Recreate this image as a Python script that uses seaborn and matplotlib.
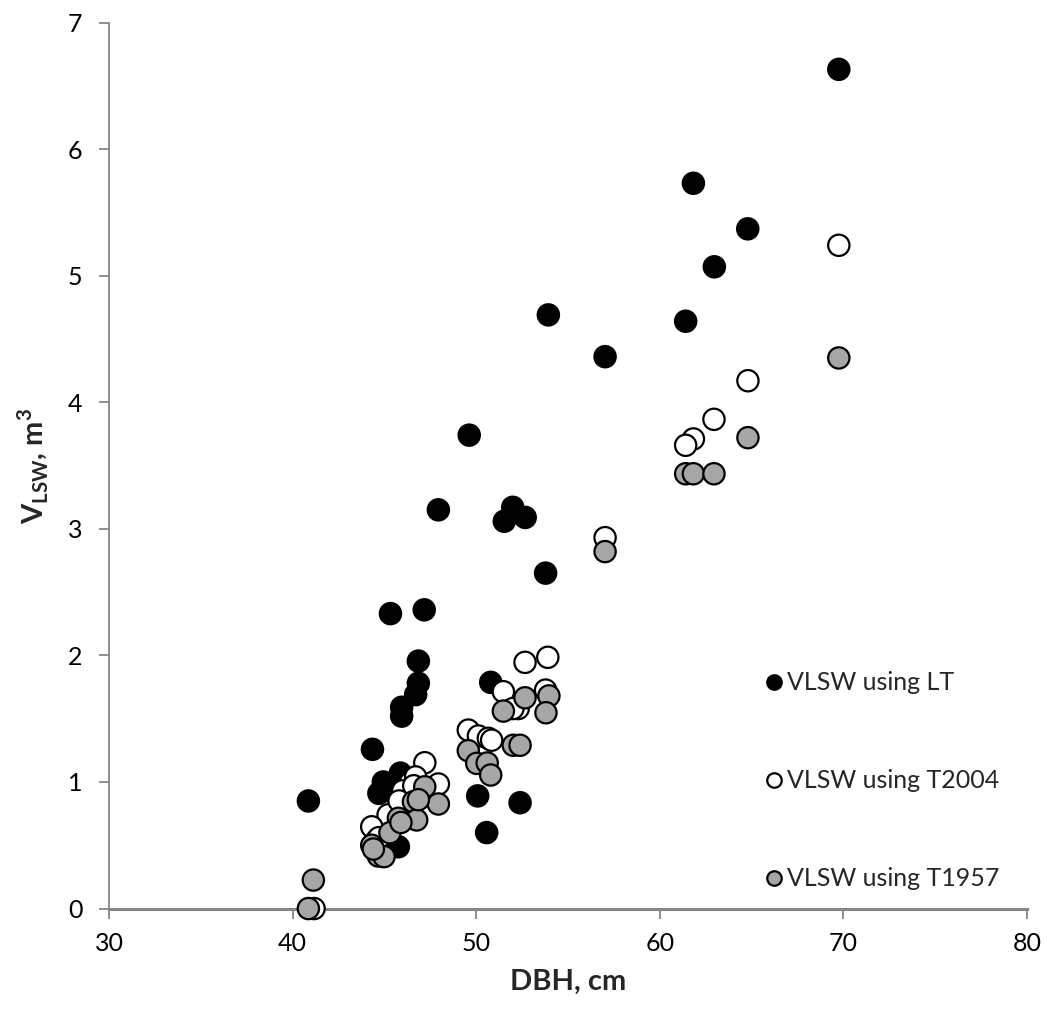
import matplotlib
matplotlib.use("Agg")
import matplotlib.pyplot as plt
import seaborn as sns
import pandas as pd

# VLSW using LT (black)
lt_dbh = [69.75, 61.83, 64.79, 62.97, 61.41, 53.93, 57.02, 49.62, 47.94, 51.99,
          51.53, 52.67, 53.78, 45.33, 47.17, 46.85, 46.85, 46.70, 45.94, 45.94,
          50.79, 44.35, 45.87, 44.94, 44.70, 40.86, 50.08, 52.39, 50.57, 45.76]
lt_vol = [6.63, 5.73, 5.37, 5.07, 4.64, 4.69, 4.36, 3.74, 3.15, 3.17,
          3.06, 3.09, 2.65, 2.33, 2.36, 1.955, 1.78, 1.69, 1.59, 1.52,
          1.787, 1.258, 1.07, 1.00, 0.91, 0.85, 0.89, 0.836, 0.60, 0.488]

# VLSW using T2004 (white)
t04_dbh = [69.75, 64.80, 62.95, 61.83, 61.41, 57.02, 53.90, 52.66, 53.78, 51.48,
           52.29, 52.00, 49.57, 50.12, 50.66, 50.84, 47.20, 47.94, 46.40, 45.94,
           45.76, 45.20, 44.31, 44.58, 41.17, 46.70, 46.00, 45.80, 46.60, 44.70]
t04_vol = [5.24, 4.17, 3.865, 3.71, 3.66, 2.93, 1.985, 1.945, 1.726, 1.713,
           1.58, 1.58, 1.41, 1.363, 1.345, 1.33, 1.152, 0.984, 0.994, 0.91,
           0.87, 0.74, 0.646, 0.54, 0.0, 1.04, 0.93, 0.85, 0.97, 0.56]

# VLSW using T1957 (grey)
t57_dbh = [69.75, 64.80, 61.41, 61.83, 62.95, 57.02, 53.96, 52.66, 53.80, 51.48,
           52.02, 52.39, 49.57, 50.03, 50.60, 50.79, 47.20, 47.94, 46.58, 45.76,
           46.76, 45.30, 44.31, 44.67, 44.98, 41.13, 40.86, 45.90, 46.85, 44.40]
t57_vol = [4.35, 3.72, 3.435, 3.435, 3.435, 2.82, 1.68, 1.665, 1.547, 1.56,
           1.29, 1.29, 1.247, 1.147, 1.15, 1.055, 0.962, 0.826, 0.844, 0.713,
           0.70, 0.599, 0.50, 0.415, 0.41, 0.225, 0.0, 0.68, 0.86, 0.47]

series_names = ["VLSW using LT", "VLSW using T2004", "VLSW using T1957"]
face_colors = ["#000000", "#ffffff", "#a6a6a6"]

df = pd.concat([
    pd.DataFrame({"DBH": lt_dbh, "V": lt_vol, "series": series_names[0]}),
    pd.DataFrame({"DBH": t04_dbh, "V": t04_vol, "series": series_names[1]}),
    pd.DataFrame({"DBH": t57_dbh, "V": t57_vol, "series": series_names[2]}),
], ignore_index=True)

sns.set_theme(style="white")
plt.rcParams["font.family"] = ["Lato", "DejaVu Sans"]
plt.rcParams["mathtext.fontset"] = "custom"
plt.rcParams["mathtext.rm"] = "Lato"
plt.rcParams["mathtext.bf"] = "Lato:bold"

fig = plt.figure(figsize=(10.47, 10.14), dpi=100)
ax = fig.add_axes([0.1041, 0.104, 0.8768, 0.8738])

sns.scatterplot(data=df, x="DBH", y="V", hue="series", hue_order=series_names,
                palette=dict(zip(series_names, face_colors)), s=235,
                edgecolor="black", linewidth=1.6, ax=ax, clip_on=False, zorder=3)

ax.set_xlim(30, 80)
ax.set_ylim(0, 7)
ax.set_xticks(range(30, 81, 10))
ax.set_yticks(range(0, 8))

for side in ["top", "right"]:
    ax.spines[side].set_visible(False)
ax.spines["left"].set_color("#868686")
ax.spines["left"].set_linewidth(1.3)
ax.spines["bottom"].set_color("#868686")
ax.spines["bottom"].set_linewidth(2.2)
ax.tick_params(axis="both", direction="out", length=7, width=1.3, color="#868686",
               labelsize=18, labelcolor="black", bottom=True, left=True)
ax.tick_params(axis="y", pad=12)
ax.tick_params(axis="x", pad=10)

ax.set_xlabel("DBH, cm", fontsize=21, fontweight="bold", labelpad=10)
ax.set_ylabel(r"V$_{\mathbf{LSW}}$, m$^{\mathbf{3}}$", fontsize=21, fontweight="bold", labelpad=12)

handles, labels = ax.get_legend_handles_labels()
leg = ax.legend(handles, labels, loc="upper left", bbox_to_anchor=(0.7, 0.279),
                frameon=False, fontsize=18, markerscale=0.68, labelspacing=3.0,
                handletextpad=0.0, handlelength=1.0, borderaxespad=0)

fig.savefig("out.png", dpi=100)
